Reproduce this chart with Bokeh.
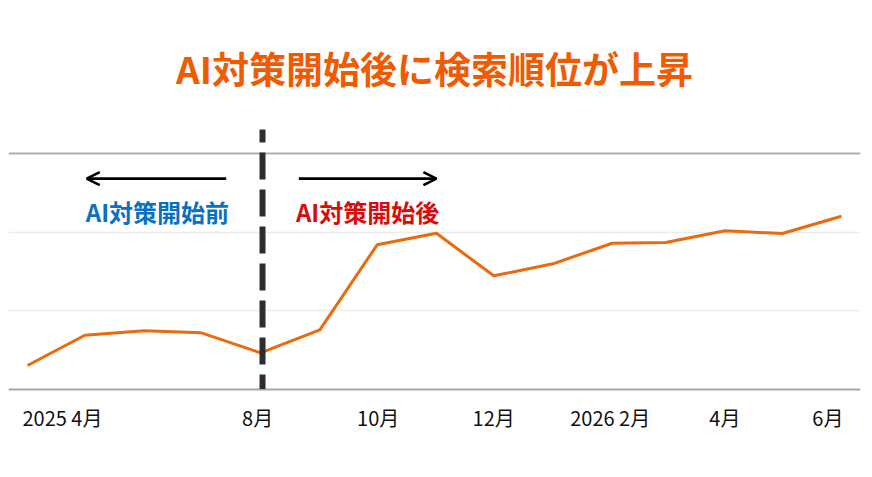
import pandas as pd
from bokeh.plotting import figure
from bokeh.models import Range1d, ColumnDataSource, Arrow, OpenHead, Grid, FixedTicker
from bokeh.core.properties import value
from bokeh.embed import file_html
from bokeh.resources import INLINE

# ---- data ----
months = ["2025-04-01", "2025-05-01", "2025-06-01", "2025-07-01", "2025-08-01",
          "2025-09-01", "2025-10-01", "2025-11-01", "2025-12-01", "2026-01-01",
          "2026-02-01", "2026-03-01", "2026-04-01", "2026-05-01", "2026-06-01"]
rank_score = [3.0, 6.85, 7.41, 7.16, 4.61, 7.54, 18.37, 19.85, 14.42, 15.95,
              18.57, 18.66, 20.15, 19.81, 22.01]
tick_dates = ["2025-04-01", "2025-08-01", "2025-10-01", "2025-12-01",
              "2026-02-01", "2026-04-01", "2026-06-01"]
tick_labels = ["2025 4月", "8月", "10月", "12月", "2026 2月", "4月", "6月"]
grid_values = [0, 10, 20, 30]
ai_start = "2025-08-02"
title_text = "AI対策開始後に検索順位が上昇"
before_text = "AI対策開始前"
after_text = "AI対策開始後"

JP = value("Noto Sans CJK JP")

def ms(d):
    return pd.Timestamp(d).value / 1e6

day = 86400000.0
x0 = ms("2025-04-01") - 9.94 * day
x1 = x0 + 445.9 * day

p = figure(width=864, height=469, x_axis_type="datetime",
           x_range=Range1d(x0, x1), y_range=Range1d(-10.25, 48.47),
           x_axis_location=None, y_axis_location=None,
           output_backend="svg", toolbar_location=None,
           min_border=0, min_border_left=8, min_border_top=8, min_border_right=4)
p.outline_line_color = None
p.xgrid.visible = False
p.ygrid.visible = False
p.background_fill_color = "white"

# grid lines
p.add_layout(Grid(dimension=1, ticker=FixedTicker(ticks=grid_values[1:-1]),
                  grid_line_color="#ececec", grid_line_width=1.5))
p.add_layout(Grid(dimension=1, ticker=FixedTicker(ticks=[grid_values[-1]]),
                  grid_line_color="#b0b0b0", grid_line_width=2))
p.add_layout(Grid(dimension=1, ticker=FixedTicker(ticks=[grid_values[0]]),
                  grid_line_color="#a6a6a6", grid_line_width=2))

# main line
src = ColumnDataSource(dict(x=pd.to_datetime(months), y=rank_score))
p.line("x", "y", source=src, line_color="#eb6a0c", line_width=3)

# AI start dashed marker
p.segment(x0=[ms(ai_start)], y0=[33.06], x1=[ms(ai_start)], y1=[grid_values[0]],
          line_width=6, line_color="#2d2d2d", line_dash="27 10", line_dash_offset=14)

# tick labels
aligns = ["left", "center", "center", "center", "center", "center", "right"]
offs = [-5, -3, 1, 0, -2, 0, 2]
tsrc = ColumnDataSource(dict(x=pd.to_datetime(tick_dates), y=[-3.59] * len(tick_dates),
                             t=tick_labels, a=aligns, o=offs))
p.text("x", "y", text="t", source=tsrc, text_align="a", x_offset="o",
       text_baseline="middle", text_font=JP, text_font_size="20px", text_color="#111111")

# title
p.text(x=[ms("2025-10-31")], y=[40.92], text=[title_text], text_align="center",
       text_baseline="middle", text_font=JP, text_font_style="bold",
       text_font_size="37px", text_color="#f05a00")

# annotations
p.text(x=[ms("2025-06-08")], y=[22.57], text=[before_text], text_align="center",
       text_baseline="middle", text_font=JP, text_font_style="bold",
       text_font_size="24px", text_color="#0a70c4")
p.text(x=[ms("2025-09-26")], y=[22.57], text=[after_text], text_align="center",
       text_baseline="middle", text_font=JP, text_font_style="bold",
       text_font_size="24px", text_color="#d80c0c")

p.add_layout(Arrow(x_start=ms("2025-07-14"), y_start=26.8, x_end=ms("2025-05-02"), y_end=26.8,
                   line_width=2.7, line_color="black",
                   end=OpenHead(size=13, line_width=2.7, line_color="black")))
p.add_layout(Arrow(x_start=ms("2025-08-21"), y_start=26.8, x_end=ms("2025-11-01"), y_end=26.8,
                   line_width=2.7, line_color="black",
                   end=OpenHead(size=13, line_width=2.7, line_color="black")))

open("out.html", "w").write(file_html(p, INLINE))
